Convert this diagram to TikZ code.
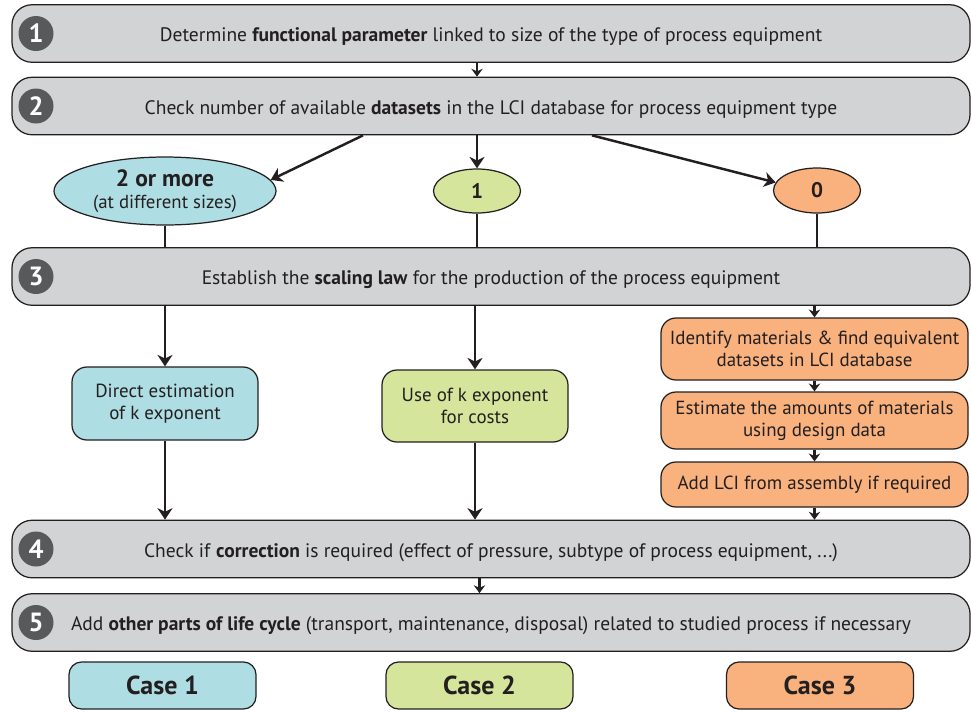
\documentclass[tikz,border=0pt]{standalone}
\usepackage{fontspec}
\setmainfont{PT Sans}
\usetikzlibrary{shapes.geometric,arrows.meta}
\definecolor{ink}{HTML}{231F20}
\definecolor{bargray}{HTML}{D1D3D4}
\definecolor{numgray}{HTML}{58595B}
\definecolor{caseblue}{HTML}{AEDDE3}
\definecolor{casegreen}{HTML}{D5E59B}
\definecolor{caseorange}{HTML}{F9B27E}

\begin{document}
\begin{tikzpicture}[
    every node/.style={text=ink, font=\fontsize{11.1}{12.6}\selectfont},
    bar/.style={draw=ink, line width=0.7pt, fill=bargray, rounded corners=0.4cm, minimum width=19.16cm, minimum height=1.15cm, inner sep=0pt, text height=9.6pt, text depth=0pt},
    num/.style={circle, fill=numgray, minimum size=0.7cm, inner sep=0pt, text=white, font=\fontsize{15}{15}\selectfont\bfseries},
    choice/.style={ellipse, draw=ink, line width=0.7pt, inner sep=0pt, align=center},
    box/.style={draw=ink, line width=0.7pt, rounded corners=0.3cm, inner sep=0pt, align=center, font=\fontsize{10.8}{12.4}\selectfont},
    case/.style={draw=ink, line width=0.7pt, rounded corners=0.25cm, inner sep=0pt, minimum width=3.74cm, minimum height=0.94cm, font=\fontsize{14.8}{14.8}\selectfont\bfseries},
    arr/.style={draw=ink, line width=1.4pt, -{Stealth[length=6.5pt,width=8.5pt,inset=2pt]}},
    arrs/.style={draw=ink, line width=1.2pt, -{Stealth[length=4.5pt,width=6.5pt,inset=1.5pt]}},
    link/.style={draw=ink, line width=1.4pt}
  ]
    \useasboundingbox (0,0) rectangle (19.42,-14.22);

    \node[bar] (s1) at (9.82,-0.67) {Determine \textbf{functional parameter} linked to size of the type of process equipment};
    \node[bar] (s2) at (9.82,-2.12) {Check number of available \textbf{datasets} in the LCI database for process equipment type};
    \node[bar] (s3) at (9.82,-5.53) {Establish the \textbf{scaling law} for the production of the process equipment};
    \node[bar] (s4) at (9.82,-10.98) {Check if \textbf{correction} is required (effect of pressure, subtype of process equipment, ...)};
    \node[bar] (s5) at (9.82,-12.45) {Add \textbf{other parts of life cycle} (transport, maintenance, disposal) related to studied process if necessary};

    \node[num] (n1) at (0.72,-0.67) {1};
    \node[num] (n2) at (0.72,-2.12) {2};
    \node[num] (n3) at (0.72,-5.53) {3};
    \node[num] (n4) at (0.72,-10.98) {4};
    \node[num] (n5) at (0.72,-12.45) {5};

    \node[choice, fill=caseblue, minimum width=4.44cm, minimum height=1.36cm, font=\fontsize{10.7}{12.4}\selectfont] (more) at (3.3,-3.82)
      {{\fontsize{13.4}{14}\selectfont\bfseries 2 or more}\\(at different sizes)};
    \node[choice, fill=casegreen, minimum width=1.74cm, minimum height=0.88cm, font=\fontsize{12}{12}\selectfont\bfseries] (one) at (9.54,-3.82) {1};
    \node[choice, fill=caseorange, minimum width=1.74cm, minimum height=0.9cm, font=\fontsize{12}{12}\selectfont\bfseries] (zero) at (16.34,-3.81) {0};

    \node[box, fill=caseblue, minimum width=3.72cm, minimum height=1.46cm] (direct) at (3.3,-8.07) {Direct estimation\\of k exponent};
    \node[box, fill=casegreen, minimum width=3.72cm, minimum height=1.44cm] (costs) at (9.5,-8.12) {Use of k exponent\\for costs};
    \node[box, fill=caseorange, minimum width=6.14cm, minimum height=1.24cm] (ident) at (16.29,-6.98) {Identify materials \& find equivalent\\datasets in LCI database};
    \node[box, fill=caseorange, minimum width=6.14cm, minimum height=1.14cm] (amount) at (16.29,-8.41) {Estimate the amounts of materials\\using design data};
    \node[box, fill=caseorange, minimum width=6.14cm, minimum height=0.9cm] (assembly) at (16.29,-9.69) {Add LCI from assembly if required};

    \node[case, fill=caseblue] (c1) at (3.25,-13.71) {Case 1};
    \node[case, fill=casegreen] (c2) at (9.59,-13.71) {Case 2};
    \node[case, fill=caseorange] (c3) at (16.4,-13.71) {Case 3};

    \draw[arrs] (one |- s1.south) -- (one |- s2.north);
    \draw[arr] ([xshift=-2.56cm]s2.south) -- (more.6);
    \draw[arr] (one |- s2.south) -- (one.north);
    \draw[arr] ([xshift=2.02cm]s2.south) -- (zero.169);
    \draw[link] (more.south) -- (more |- s3.north);
    \draw[link] (one.south) -- (one |- s3.north);
    \draw[link] (zero.south) -- (zero |- s3.north);
    \draw[arr] (direct |- s3.south) -- (direct.north);
    \draw[arr] (costs |- s3.south) -- (costs.north);
    \draw[arrs] (ident |- s3.south) -- (ident.north);
    \draw[arrs] (ident.south) -- (amount.north);
    \draw[arrs] (amount.south) -- (assembly.north);
    \draw[arrs] (assembly.south) -- (assembly |- s4.north);
    \draw[arr] (direct.south) -- (direct |- s4.north);
    \draw[arr] (costs.south) -- (costs |- s4.north);
    \draw[arrs] (c2 |- s4.south) -- (c2 |- s5.north);
  \end{tikzpicture}
\end{document}
